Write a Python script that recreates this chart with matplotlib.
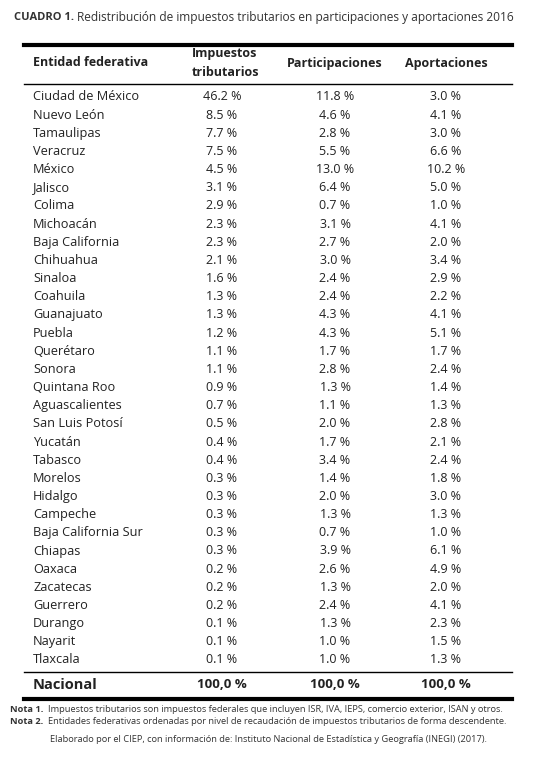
import matplotlib.pyplot as plt

estados = ["Ciudad de México", "Nuevo León", "Tamaulipas", "Veracruz", "México", "Jalisco",
           "Colima", "Michoacán", "Baja California", "Chihuahua", "Sinaloa", "Coahuila",
           "Guanajuato", "Puebla", "Querétaro", "Sonora", "Quintana Roo", "Aguascalientes",
           "San Luis Potosí", "Yucatán", "Tabasco", "Morelos", "Hidalgo", "Campeche",
           "Baja California Sur", "Chiapas", "Oaxaca", "Zacatecas", "Guerrero", "Durango",
           "Nayarit", "Tlaxcala"]
impuestos = [46.2, 8.5, 7.7, 7.5, 4.5, 3.1, 2.9, 2.3, 2.3, 2.1, 1.6, 1.3, 1.3, 1.2, 1.1, 1.1,
             0.9, 0.7, 0.5, 0.4, 0.4, 0.3, 0.3, 0.3, 0.3, 0.3, 0.2, 0.2, 0.2, 0.1, 0.1, 0.1]
participaciones = [11.8, 4.6, 2.8, 5.5, 13.0, 6.4, 0.7, 3.1, 2.7, 3.0, 2.4, 2.4, 4.3, 4.3, 1.7,
                   2.8, 1.3, 1.1, 2.0, 1.7, 3.4, 1.4, 2.0, 1.3, 0.7, 3.9, 2.6, 1.3, 2.4, 1.3,
                   1.0, 1.0]
aportaciones = [3.0, 4.1, 3.0, 6.6, 10.2, 5.0, 1.0, 4.1, 2.0, 3.4, 2.9, 2.2, 4.1, 5.1, 1.7,
                2.4, 1.4, 1.3, 2.8, 2.1, 2.4, 1.8, 3.0, 1.3, 1.0, 6.1, 4.9, 2.0, 4.1, 2.3,
                1.5, 1.3]

plt.rcParams["font.family"] = ["Open Sans", "DejaVu Sans"]
W, H = 536, 776
fig = plt.figure(figsize=(W / 100, H / 100), dpi=100)
fig.patch.set_facecolor("white")
ax = fig.add_axes([0, 0, 1, 1])
ax.set_xlim(0, W)
ax.set_ylim(H, 0)
ax.axis("off")

txt = "#222222"
cols = [222, 335, 446]

# titulo
ax.text(14, 18, "CUADRO 1.", fontsize=8, fontweight="bold", color="#333333", va="center")
ax.text(77, 18, "Redistribución de impuestos tributarios en participaciones y aportaciones 2016",
        fontsize=8.6, color="#333333", va="center")

ax.plot([24, 512], [45, 45], color="black", lw=3)
ax.text(33, 63, "Entidad federativa", fontsize=9, fontweight="bold", color=txt, va="center")
ax.text(cols[0] + 3, 63, "Impuestos\ntributarios", fontsize=9, fontweight="bold", color=txt,
        va="center", ha="center", linespacing=1.5)
ax.text(cols[1], 63, "Participaciones", fontsize=9, fontweight="bold", color=txt, va="center", ha="center")
ax.text(cols[2], 63, "Aportaciones", fontsize=9, fontweight="bold", color=txt, va="center", ha="center")
ax.plot([24, 512], [84, 84], color="black", lw=1)

y0, dy = 97, 18.16
for i, e in enumerate(estados):
    y = y0 + i * dy
    ax.text(33, y, e, fontsize=9.2, color=txt, va="center")
    for x, v in zip(cols, [impuestos[i], participaciones[i], aportaciones[i]]):
        ax.text(x, y, f"{v:.1f} %", fontsize=9, color=txt, va="center", ha="center")

ax.plot([24, 512], [672, 672], color="black", lw=1)
ax.text(33, 685, "Nacional", fontsize=10.5, fontweight="bold", color=txt, va="center")
for x in cols:
    ax.text(x, 685, "100,0 %", fontsize=9.5, fontweight="bold", color=txt, va="center", ha="center")
ax.plot([24, 512], [699, 699], color="black", lw=3)

ax.text(10, 709, "Nota 1.", fontsize=6.7, fontweight="bold", color="#333333", va="center")
ax.text(48, 709, "Impuestos tributarios son impuestos federales que incluyen ISR, IVA, IEPS, comercio exterior, ISAN y otros.",
        fontsize=6.7, color="#333333", va="center")
ax.text(10, 721, "Nota 2.", fontsize=6.7, fontweight="bold", color="#333333", va="center")
ax.text(48, 721, "Entidades federativas ordenadas por nivel de recaudación de impuestos tributarios de forma descendente.",
        fontsize=6.7, color="#333333", va="center")
ax.text(W / 2, 740, "Elaborado por el CIEP, con información de: Instituto Nacional de Estadística y Geografía (INEGI) (2017).",
        fontsize=6.7, color="#333333", va="center", ha="center")

fig.savefig("out.png", dpi=100, facecolor="white")
